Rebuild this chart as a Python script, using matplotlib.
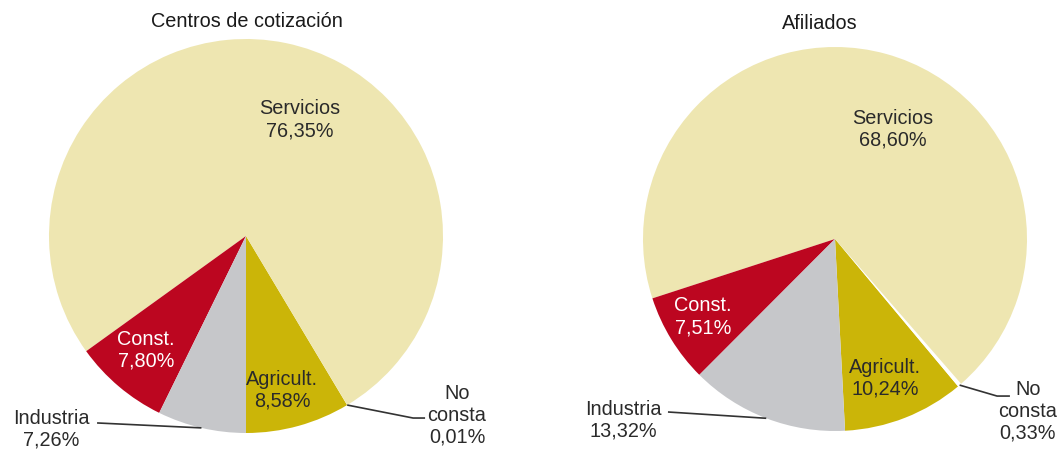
import numpy as np
import matplotlib.pyplot as plt

# sector shares (%), drawn counterclockwise from the bottom of each pie
sectores = ['Agricult.', 'No\nconsta', 'Servicios', 'Const.', 'Industria']
centros = [8.58, 0.01, 76.35, 7.80, 7.26]
afiliados = [10.24, 0.33, 68.60, 7.51, 13.32]

colores = ['#CBB508', '#FFFFFF', '#EEE6B1', '#BC0620', '#C6C7CA']
texto = ['#2a2a2a', '#2a2a2a', '#2a2a2a', '#FFFFFF', '#2a2a2a']

plt.rcParams['font.family'] = ['Liberation Sans', 'DejaVu Sans']
FS = 14.3

W, H = 1062, 456
fig = plt.figure(figsize=(W / 100, H / 100), dpi=100)


def fmt(v):
    return ('%.2f' % v).replace('.', ',') + '%'


def dibujar(x0, x1, cx, cy, R, valores, titulo, start, title_pos, pos, linea_ext):
    # axes in pixel box, limits scaled so one data unit = R pixels
    ax = fig.add_axes([x0 / W, 0, (x1 - x0) / W, 1])
    wedges, _ = ax.pie(valores, colors=colores, startangle=start, counterclock=True,
                       radius=1, wedgeprops=dict(linewidth=0))
    ax.set_aspect('auto')
    ax.set_xlim((x0 - cx) / R, (x1 - cx) / R)
    ax.set_ylim(-(H - cy) / R, cy / R)
    ax.axis('off')
    ax.text(title_pos[0], title_pos[1], titulo, ha='center', va='center',
            fontsize=FS, color='#1a1a1a')

    for i, (w, nombre, v) in enumerate(zip(wedges, sectores, valores)):
        px, py = pos[i]
        ax.text(px, py, nombre + '\n' + fmt(v), ha='center', va='center',
                fontsize=FS, color=texto[i], linespacing=1.2)

    # leader lines for the outside labels
    for i, pts in linea_ext.items():
        w = wedges[i]
        mid = np.deg2rad((w.theta1 + w.theta2) / 2)
        xs = [np.cos(mid)] + [p[0] for p in pts]
        ys = [np.sin(mid)] + [p[1] for p in pts]
        ax.plot(xs, ys, color='#333333', lw=1.2, solid_capstyle='butt')


dibujar(0, 531, 246, 237, 197, centros, 'Centros de cotización', -90,
        (0.005, 1.096),
        {0: (0.183, -0.777), 1: (1.071, -0.904), 2: (0.274, 0.594),
         3: (-0.508, -0.574), 4: (-0.990, -0.975)},
        {1: [(0.848, -0.924), (0.909, -0.924)],
         4: [(-0.756, -0.949)]})

dibujar(531, 1062, 835, 240, 192, afiliados, 'Afiliados', -87,
        (-0.078, 1.130),
        {0: (0.260, -0.719), 1: (1.005, -0.891), 2: (0.302, 0.578),
         3: (-0.688, -0.401), 4: (-1.104, -0.938)},
        {1: [(0.844, -0.818), (0.911, -0.818)],
         4: [(-0.870, -0.901)]})

fig.savefig('out.png', dpi=100, facecolor='white')
